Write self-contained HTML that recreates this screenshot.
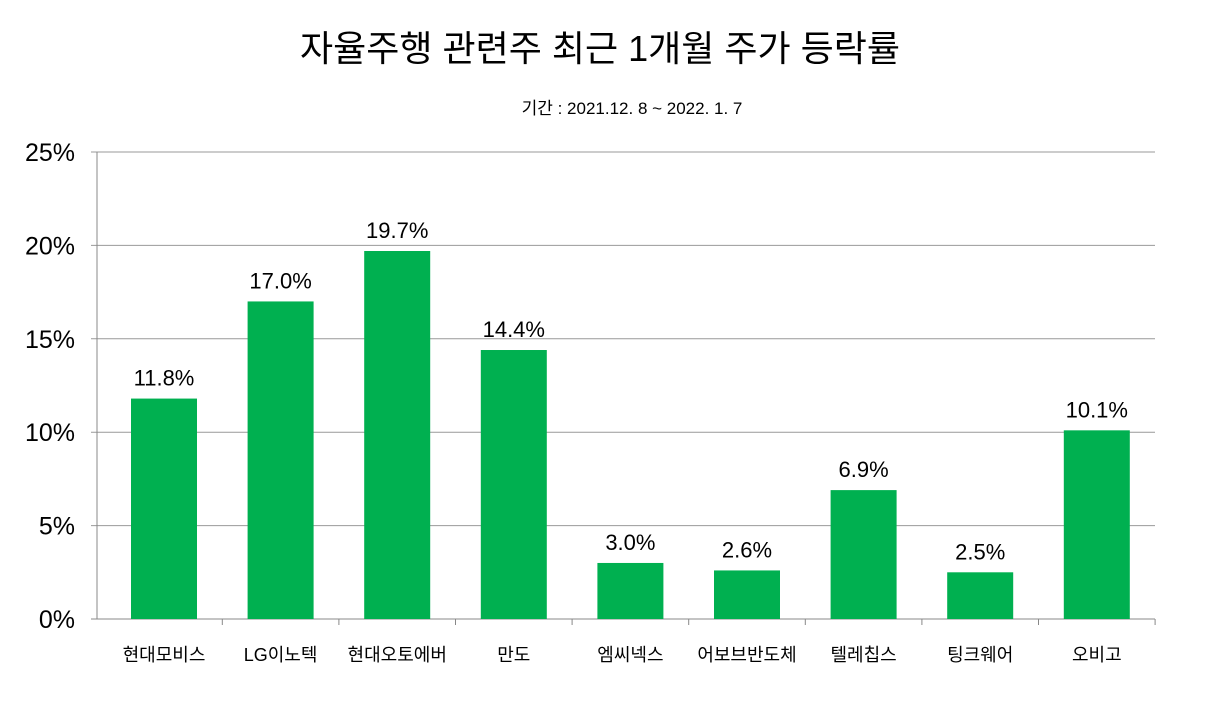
<!DOCTYPE html>
<html><head><meta charset="utf-8"><style>
body{margin:0;background:#fff;}
svg text{font-family:"Liberation Sans","Noto Sans CJK KR",sans-serif;}
</style></head><body>
<svg width="1225" height="702" xmlns="http://www.w3.org/2000/svg">
<text x="600" y="61" text-anchor="middle" font-size="36" fill="#000">자율주행 관련주 최근 1개월 주가 등락률</text>
<text x="632" y="114" text-anchor="middle" font-size="17" fill="#000">기간 : 2021.12. 8  ~ 2022. 1. 7</text>
<g id="grid"></g><g id="bars"></g><g id="labels"></g>
</svg>
<script>
const categories=["현대모비스","LG이노텍","현대오토에버","만도","엠씨넥스","어보브반도체","텔레칩스","팅크웨어","오비고"];
const values=[11.8,17.0,19.7,14.4,3.0,2.6,6.9,2.5,10.1];
const ticks=[0,5,10,15,20,25];
const NS="http://www.w3.org/2000/svg";
const x0=97,x1=1155,y0=619,yTop=152,ymax=25;
const y=v=>y0-(v/ymax)*(y0-yTop);
const slot=116.6, cStart=105.7;
const xc=i=>cStart+slot*(i+0.5);
function mk(tag,attrs,parent,txt){const e=document.createElementNS(NS,tag);for(const k in attrs)e.setAttribute(k,attrs[k]);if(txt!==undefined)e.textContent=txt;document.getElementById(parent).appendChild(e);return e;}
ticks.forEach(t=>{
 const l=mk('line',{x1:x0-6,x2:x1,y1:y(t),y2:y(t),stroke:t===0?'#888':'#999','stroke-width':1},'grid');
 
 
 const tx=mk('text',{x:75,y:y(t)+9,'text-anchor':'end','font-size':25,fill:'#000'},'grid',t+'%');
 
 
});
const ax=mk('line',{x1:x0,x2:x0,y1:yTop,y2:y0,stroke:'#888'},'grid');


for(let i=1;i<=categories.length;i++){
 const tk=mk('line',{x1:cStart+slot*i,x2:cStart+slot*i,y1:y0,y2:y0+6,stroke:'#888'},'grid');
 
 
}
const bw=66;
categories.forEach((c,i)=>{
 const v=values[i];
 const r=mk('rect',{x:xc(i)-bw/2,y:y(v),width:bw,height:y0-y(v),fill:'#00b050'},'bars');
 
 
 const vl=mk('text',{x:xc(i),y:y(v)-13,'text-anchor':'middle','font-size':22,fill:'#000'},'labels',v.toFixed(1)+'%');
 
 
 const cl=mk('text',{x:xc(i),y:661,'text-anchor':'middle','font-size':18,fill:'#000'},'labels',c);
 
 
});
</script>
</body></html>
